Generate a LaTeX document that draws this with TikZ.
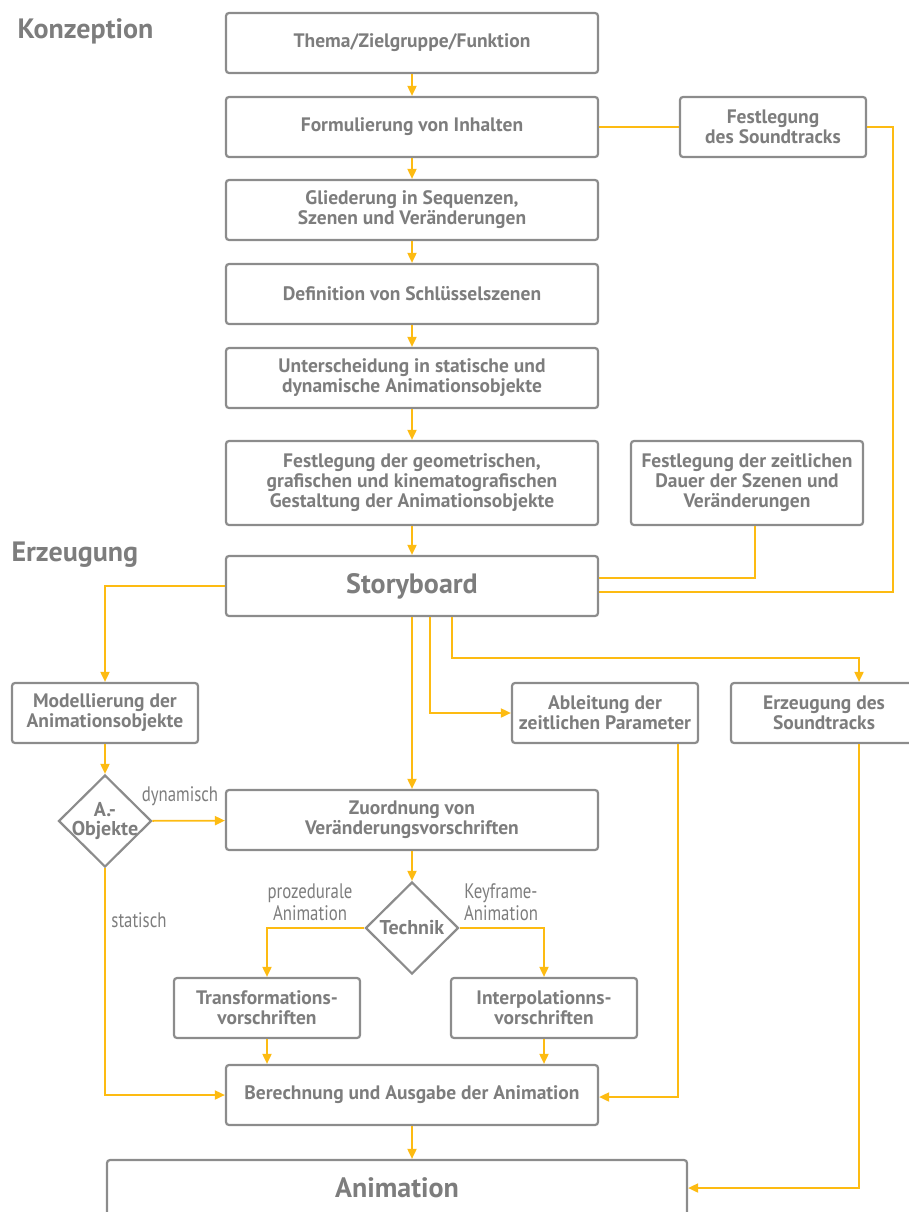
\documentclass[tikz,border=0pt]{standalone}
\usepackage{fontspec}
\setmainfont{PT Sans}
\newfontfamily\narrowfont[FakeStretch=0.8]{PT Sans}
\usetikzlibrary{arrows.meta,shapes.geometric}
\definecolor{boxgray}{RGB}{140,140,140}
\definecolor{textgray}{RGB}{125,125,125}
\definecolor{flowyellow}{RGB}{253,187,18}

\tikzset{
  box/.style={draw=boxgray, line width=2.2pt, rounded corners=3pt, text=textgray,
    font=\fontsize{19.5}{20}\selectfont\bfseries, align=center, inner sep=0pt,
    minimum width=372pt, minimum height=60pt},
  smallbox/.style={box, minimum width=186pt},
  bigbox/.style={box, font=\fontsize{28}{30}\selectfont\bfseries},
  decision/.style={diamond, draw=boxgray, line width=2.2pt, inner sep=0pt,
    minimum width=93pt, minimum height=92pt},
  decisiontext/.style={text=textgray, font=\fontsize{20}{21}\selectfont\bfseries, align=center},
  flow/.style={draw=flowyellow, line width=1.8pt},
  arrow/.style={flow, -{Triangle[length=10pt,width=9pt]}},
  tag/.style={text=textgray, font=\narrowfont\fontsize{21}{22}\selectfont, align=center},
  phase/.style={text=textgray, font=\fontsize{28}{30}\selectfont\bfseries, anchor=west}
}

\begin{document}
\begin{tikzpicture}[x=1pt,y=-1pt]
   \useasboundingbox (0,0) rectangle (909,1212);

   \node[phase] (konz) at (14,31) {Konzeption};
   \node[phase] (erz) at (8,555) {Erzeugung};

   \node[box] (thema) at (412,43) {Thema/Zielgruppe/Funktion};
   \node[box] (form) at (412,127) {Formulierung von Inhalten};
   \node[box] (glied) at (412,210) {Gliederung in Sequenzen,\\Szenen und Veränderungen};
   \node[box] (schl) at (412,294) {Definition von Schlüsselszenen};
   \node[box] (unter) at (412,378) {Unterscheidung in statische und\\dynamische Animationsobjekte};
   \node[box, minimum height=84pt] (geom) at (412,483) {Festlegung der geometrischen,\\grafischen und kinematografischen\\Gestaltung der Animationsobjekte};
   \node[bigbox] (story) at (412,586) {Storyboard};

   \node[smallbox] (sound) at (773,127) {Festlegung\\des Soundtracks};
   \node[box, minimum width=232pt, minimum height=84pt] (dauer) at (747,483) {Festlegung der zeitlichen\\Dauer der Szenen und\\Veränderungen};

   \node[smallbox] (model) at (105,713) {Modellierung der\\Animationsobjekte};
   \node[smallbox] (ableit) at (605,713) {Ableitung der\\zeitlichen Parameter};
   \node[smallbox] (erzsnd) at (824,713) {Erzeugung des\\Soundtracks};

   \node[decision, label={[decisiontext]center:A.-\\[-2pt]Objekte}] (aobj) at (105,821) {};
   \node[box] (zuord) at (412,820) {Zuordnung von\\Veränderungsvorschriften};
   \node[decision, label={[decisiontext]center:Technik}] (technik) at (412,928) {};

   \node[smallbox] (transf) at (267,1008) {Transformations-\\vorschriften};
   \node[smallbox] (interp) at (544,1008) {Interpolationns-\\vorschriften};

   \node[box] (berech) at (412,1095) {Berechnung und Ausgabe der Animation};
   \node[bigbox, minimum width=580pt, minimum height=56pt] (anim) at (397,1188) {Animation};

   \node[tag] (dyn) at (180,796) {dynamisch};
   \node[tag] (stat) at (139,920) {statisch};
   \node[tag] (proz) at (310,902) {prozedurale\\Animation};
   \node[tag] (key) at (501,902) {Keyframe-\\Animation};

   \draw[arrow] (thema) -- (form);
   \draw[arrow] (form) -- (glied);
   \draw[arrow] (glied) -- (schl);
   \draw[arrow] (schl) -- (unter);
   \draw[arrow] (unter) -- (geom);
   \draw[arrow] (geom) -- (story);

   \draw[flow] (form) -- (sound);
   \draw[flow] (sound.east) -- ++(26,0) |- ([yshift=-6pt]story.east);
   \draw[flow] ([xshift=8pt]dauer.south) |- ([yshift=8pt]story.east);

   \draw[arrow] (story.west) -| (model.north);
   \draw[arrow] (story) -- (zuord);
   \draw[arrow] ([xshift=18pt]story.south) |- (ableit.west);
   \draw[arrow] ([xshift=40pt]story.south) -- ++(0,41) -| ([xshift=35pt]erzsnd.north);

   \draw[arrow] (model) -- (aobj);
   \draw[arrow] (aobj) -- (zuord);
   \draw[arrow] (aobj.south) |- (berech.west);
   \draw[arrow] (zuord) -- (technik);
   \draw[arrow] (technik.west) -| (transf.north);
   \draw[arrow] (technik.east) -| (interp.north);
   \draw[arrow] (transf.south) -- (transf.south |- berech.north);
   \draw[arrow] (interp.south) -- (interp.south |- berech.north);
   \draw[arrow] ([xshift=73pt]ableit.south) |- ([yshift=-2pt]berech.east);
   \draw[arrow] ([xshift=35pt]erzsnd.south) |- (anim.east);
   \draw[arrow] (berech.south) -- (berech.south |- anim.north);
\end{tikzpicture}
\end{document}
